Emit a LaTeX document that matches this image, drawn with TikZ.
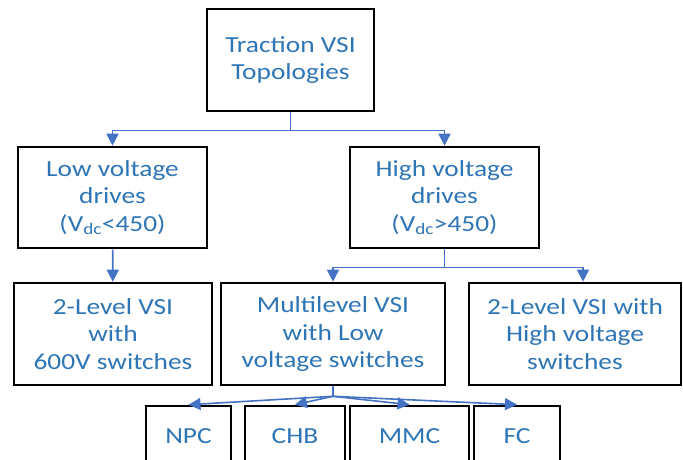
\documentclass[tikz,border=0pt]{standalone}
\usepackage{fontspec}
\setmainfont{Carlito}[FakeStretch=1.19]
\usetikzlibrary{arrows.meta,positioning}
\definecolor{txtblue}{RGB}{46,117,182}
\definecolor{arrowblue}{RGB}{68,114,196}

\begin{document}
\begin{tikzpicture}[
    x=1pt, y=-1pt,
    box/.style={rectangle, draw=black, line width=2.6pt, align=center,
                text=txtblue, inner sep=0pt,
                font=\fontsize{23}{27.5}\selectfont},
    arr/.style={-{Triangle[length=12pt, width=12pt]}, line width=1.6pt, arrowblue}
]
\clip (0,0) rectangle (683,460);

\node[box, minimum width=167pt, minimum height=102pt] (topo) at (290.5,60) {Traction VSI\\Topologies};

\node[box, minimum width=189pt, minimum height=101pt] (lowv) at (112.5,197.5) {Low voltage\\drives\\(V\textsubscript{dc}<450)};
\node[box, minimum width=189pt, minimum height=101pt] (highv) at (444.5,197.5) {High voltage\\drives\\(V\textsubscript{dc}>450)};

\node[box, minimum width=198pt, minimum height=102pt] (twolvl) at (113,334) {2-Level VSI\\with\\600V switches};
\node[box, minimum width=224pt, minimum height=102pt] (mlvsi) at (333,334) {Multilevel VSI\\with Low\\voltage switches};
\node[box, minimum width=212pt, minimum height=102pt] (twohv) at (575,334) {2-Level VSI with\\High voltage\\switches};

\node[box, minimum width=85pt, minimum height=60pt] (npc) at (188.5,436) {NPC};
\node[box, minimum width=100pt, minimum height=60pt] (chb) at (295,436) {CHB};
\node[box, minimum width=119pt, minimum height=60pt] (mmc) at (409.5,436) {MMC};
\node[box, minimum width=86pt, minimum height=60pt] (fc) at (517,436) {FC};

\draw[arr] (topo.south) -- ++(0,18) -| (lowv.north);
\draw[arr] (topo.south) -- ++(0,18) -| (highv.north);
\draw[arr] (lowv) -- (twolvl);
\draw[arr] (highv.south) -- ++(0,18) -| (mlvsi.north);
\draw[arr] (highv.south) -- ++(0,18) -| ([xshift=8pt]twohv.north);

\draw[arrowblue, line width=1.6pt] (mlvsi.south) -- ++(0,10) coordinate (fork);
\draw[arr] (fork) -- (npc.north);
\draw[arr] (fork) -- (chb.north);
\draw[arr] (fork) -- (mmc.north);
\draw[arr] (fork) -- (fc.north);

\end{tikzpicture}
\end{document}
